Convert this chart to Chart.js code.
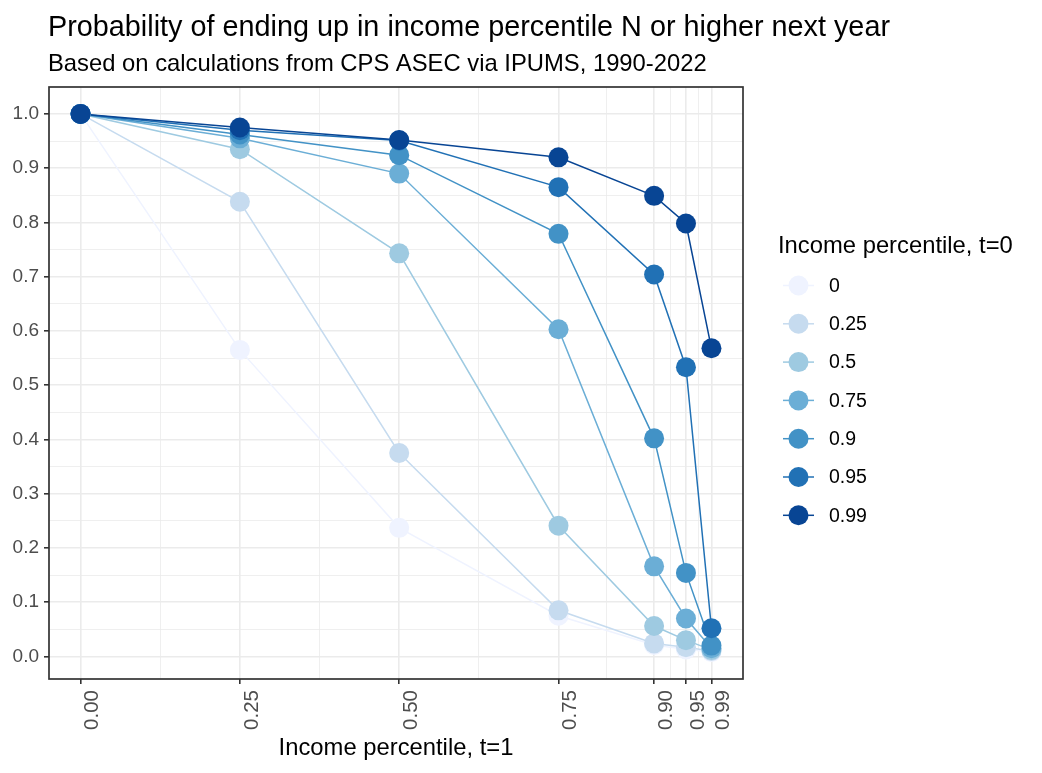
<!DOCTYPE html>
<html lang="en">
<head>
<meta charset="UTF-8">
<title>Probability of ending up in income percentile N or higher next year</title>
<script src="https://cdn.jsdelivr.net/npm/chart.js"></script>
<style>
  html, body { margin: 0; padding: 0; background: #fff; }
  .chart-container { width: 1042px; height: 773px; position: relative; }
</style>
</head>
<body>
<div class="chart-container"><canvas id="chart"></canvas></div>
<script>
  // income percentile at t=1 (x axis)
  const percentiles = [0, 0.25, 0.5, 0.75, 0.9, 0.95, 0.99];
  const xTickLabels = ['0.00', '0.25', '0.50', '0.75', '0.90', '0.95', '0.99'];
  const xMinorBreaks = [0.125, 0.375, 0.625, 0.825, 0.925, 0.97];

  const yBreaks = [0, 0.1, 0.2, 0.3, 0.4, 0.5, 0.6, 0.7, 0.8, 0.9, 1.0];
  const yTickLabels = ['0.0', '0.1', '0.2', '0.3', '0.4', '0.5', '0.6', '0.7', '0.8', '0.9', '1.0'];
  const yMinorBreaks = [0.05, 0.15, 0.25, 0.35, 0.45, 0.55, 0.65, 0.75, 0.85, 0.95];

  // income percentile at t=0 (legend groups)
  const groups = ['0', '0.25', '0.5', '0.75', '0.9', '0.95', '0.99'];

  // probability of ending up in percentile N or higher next year
  const from0  = [1.000, 0.565, 0.237, 0.075, 0.021, 0.013, 0.008];
  const from25 = [1.000, 0.838, 0.375, 0.085, 0.024, 0.017, 0.010];
  const from50 = [1.000, 0.935, 0.743, 0.241, 0.056, 0.030, 0.012];
  const from75 = [1.000, 0.955, 0.890, 0.603, 0.166, 0.070, 0.015];
  const from90 = [1.000, 0.962, 0.924, 0.779, 0.402, 0.154, 0.020];
  const from95 = [1.000, 0.970, 0.951, 0.865, 0.704, 0.533, 0.052];
  const from99 = [1.000, 0.975, 0.952, 0.920, 0.849, 0.798, 0.568];
  const series = [from0, from25, from50, from75, from90, from95, from99];

  const blues = ['#EFF3FF', '#C6DBEF', '#9ECAE1', '#6BAED6', '#4292C6', '#2171B5', '#084594'];

  const FONT = '"Liberation Sans", Arial, sans-serif';
  Chart.defaults.font.family = FONT;

  const isMajorX = v => percentiles.indexOf(v) >= 0;
  const isMajorY = v => yBreaks.indexOf(v) >= 0;

  // lines first (under everything), then points, highest group on top
  const datasets = [];
  series.forEach((vals, i) => {
    const pts = percentiles.map((x, j) => ({ x: x, y: vals[j] }));
    datasets.push({
      label: groups[i],
      data: pts,
      showLine: true,
      borderColor: blues[i],
      borderWidth: 1.5,
      pointRadius: 0,
      order: 200 - i
    });
    datasets.push({
      label: groups[i],
      data: pts,
      showLine: false,
      backgroundColor: blues[i],
      pointBackgroundColor: blues[i],
      pointBorderWidth: 0,
      pointRadius: 10,
      order: 100 - i
    });
  });

  // title, subtitle, legend and panel border
  const decorations = {
    id: 'decorations',
    afterDraw(chart) {
      const ctx = chart.ctx;
      const a = chart.chartArea;
      ctx.save();
      ctx.strokeStyle = '#333333';
      ctx.lineWidth = 1.7;
      ctx.strokeRect(a.left, a.top, a.right - a.left, a.bottom - a.top);

      ctx.fillStyle = '#000';
      ctx.textAlign = 'left';
      ctx.textBaseline = 'alphabetic';
      ctx.font = '28.8px ' + FONT;
      ctx.fillText('Probability of ending up in income percentile N or higher next year', 48, 36);
      ctx.font = '23.8px ' + FONT;
      ctx.fillText('Based on calculations from CPS ASEC via IPUMS, 1990-2022', 48, 71);

      ctx.fillText('Income percentile, t=0', 778, 253);
      ctx.font = '19.5px ' + FONT;
      ctx.textBaseline = 'middle';
      groups.forEach((g, i) => {
        const y = 285.5 + i * 38.3;
        ctx.strokeStyle = blues[i];
        ctx.lineWidth = 1.5;
        ctx.beginPath();
        ctx.moveTo(783, y);
        ctx.lineTo(814, y);
        ctx.stroke();
        ctx.fillStyle = blues[i];
        ctx.beginPath();
        ctx.arc(798.5, y, 10, 0, Math.PI * 2);
        ctx.fill();
        ctx.fillStyle = '#000';
        ctx.fillText(g, 829, y + 1);
      });
      ctx.restore();
    }
  };

  new Chart(document.getElementById('chart'), {
    type: 'scatter',
    data: { datasets: datasets },
    options: {
      responsive: true,
      maintainAspectRatio: false,
      animation: false,
      layout: { padding: { top: 87, right: 299, left: 0, bottom: 0 } },
      plugins: {
        legend: { display: false },
        tooltip: { enabled: false },
        title: { display: false }
      },
      scales: {
        x: {
          type: 'linear',
          min: -0.0495,
          max: 1.0395,
          afterBuildTicks: s => {
            s.ticks = percentiles.concat(xMinorBreaks).map(v => ({ value: v }));
          },
          afterFit: s => { s.height = 94; },
          ticks: {
            autoSkip: false,
            minRotation: 90,
            maxRotation: 90,
            padding: 6,
            labelOffset: 12,
            color: '#4D4D4D',
            font: { size: 20.5 },
            callback: v => {
              const k = percentiles.indexOf(v);
              return k >= 0 ? xTickLabels[k] : '';
            }
          },
          grid: {
            color: '#EBEBEB',
            lineWidth: c => (c.tick && isMajorX(c.tick.value)) ? 1.6 : 0.8,
            tickColor: '#333333',
            tickWidth: c => (c.tick && isMajorX(c.tick.value)) ? 1.6 : 0,
            tickLength: 5
          },
          border: { display: false },
          title: {
            display: true,
            text: 'Income percentile, t=1',
            color: '#000',
            font: { size: 23.8 },
            padding: { top: 0, bottom: 10 }
          }
        },
        y: {
          type: 'linear',
          min: -0.0416,
          max: 1.0496,
          afterBuildTicks: s => {
            s.ticks = yBreaks.concat(yMinorBreaks).map(v => ({ value: v }));
          },
          afterFit: s => { s.width = 49; },
          ticks: {
            autoSkip: false,
            padding: 5,
            color: '#4D4D4D',
            font: { size: 19 },
            callback: v => {
              const k = yBreaks.indexOf(v);
              return k >= 0 ? yTickLabels[k] : '';
            }
          },
          grid: {
            color: '#EBEBEB',
            lineWidth: c => (c.tick && isMajorY(c.tick.value)) ? 1.6 : 0.8,
            tickColor: '#333333',
            tickWidth: c => (c.tick && isMajorY(c.tick.value)) ? 1.6 : 0,
            tickLength: 5
          },
          border: { display: false }
        }
      }
    },
    plugins: [decorations]
  });
</script>
</body>
</html>
